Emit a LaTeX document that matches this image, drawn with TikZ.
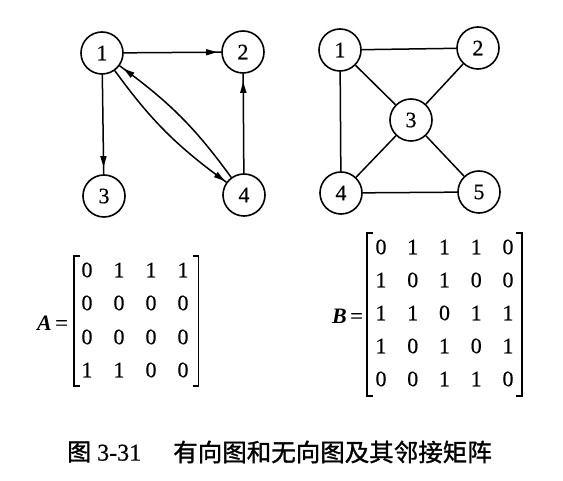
\documentclass[tikz,border=0pt]{standalone}
\usepackage{fontspec}
\setmainfont{Liberation Serif}
\newfontfamily\heavy{Liberation Serif}[FakeBold=0.5]
\newfontfamily\cjk{Noto Sans CJK SC}[FakeBold=1.2]
\usetikzlibrary{arrows.meta,decorations.markings}
\begin{document}
\begin{tikzpicture}[x=1pt,y=-1pt,
  vtx/.style={circle,draw,line width=1.6pt,minimum size=42pt,inner sep=0pt,font=\heavy\fontsize{22}{22}\selectfont},
  edge/.style={line width=1.5pt},
  tipat/.style={postaction={decorate},decoration={markings,mark=at position #1 with {\arrow{Triangle[length=11pt,width=6pt]}}}},
  ent/.style={font=\heavy\fontsize{22}{22}\selectfont,inner sep=0pt},
  brk/.style={line width=1.4pt}]
\useasboundingbox[fill=white] (0,0) rectangle (563,481);
% directed graph
\node[vtx] (d1) at (102,53) {1};
\node[vtx] (d2) at (243,52) {2};
\node[vtx] (d3) at (104,196) {3};
\node[vtx] (d4) at (244,195) {4};
\draw[edge,tipat=-4pt] (d1) -- (d2);
\draw[edge,tipat=-7pt] (d1) -- (d3);
\draw[edge,tipat=-8pt] (d4) -- (d2);
\draw[edge,tipat=-2pt] (d1) to[bend right=9] (d4);
\draw[edge,tipat=-5pt] (d4) to[bend right=9] (d1);
% undirected graph
\node[vtx] (u1) at (340,50) {1};
\node[vtx] (u2) at (478,48) {2};
\node[vtx] (u3) at (411,120) {3};
\node[vtx] (u4) at (341,193) {4};
\node[vtx] (u5) at (479,192) {5};
\draw[edge] (u1) -- (u2);
\draw[edge] (u1) -- (u3);
\draw[edge] (u1) -- (u4);
\draw[edge] (u2) -- (u3);
\draw[edge] (u3) -- (u4);
\draw[edge] (u3) -- (u5);
\draw[edge] (u4) -- (u5);
% matrix A
\node[anchor=east,inner sep=0pt,font=\fontsize{22}{22}\selectfont] (Alab) at (68,323) {\textbf{\textit{A}}\,{\heavy=}};
\draw[brk] (80,256) -- (74,256) -- (74,386) -- (80,386);
\draw[brk] (192.5,256) -- (198.5,256) -- (198.5,386) -- (192.5,386);
\foreach \y/\row [count=\r] in {270/{0,1,1,1},303/{0,0,0,0},337/{0,0,0,0},370/{1,1,0,0}}
  \foreach \v [count=\c] in \row
    \node[ent] (a\r\c) at ({55+32*\c},\y) {\v};
% matrix B
\node[anchor=east,inner sep=0pt,font=\fontsize{22}{22}\selectfont] (Blab) at (363,316) {\textbf{\textit{B}}\,{\heavy=}};
\draw[brk] (373,233) -- (367,233) -- (367,396) -- (373,396);
\draw[brk] (516,233) -- (522,233) -- (522,396) -- (516,396);
\foreach \y/\row [count=\r] in {247/{0,1,1,1,0},280/{1,0,1,0,0},313/{1,1,0,1,1},346/{1,0,1,0,1},379/{0,0,1,1,0}}
  \foreach \v [count=\c] in \row
    \node[ent] (b\r\c) at ({349.25+31.75*\c},\y) {\v};
% caption
\node[anchor=west,inner sep=0pt,font=\fontsize{24}{24}\selectfont] (cap1) at (67,452) {{\cjk 图} {\heavy 3-31}};
\node[anchor=east,inner sep=0pt,font=\fontsize{24.5}{24.5}\selectfont] (cap2) at (492,452) {\cjk 有向图和无向图及其邻接矩阵};
\end{tikzpicture}
\end{document}
